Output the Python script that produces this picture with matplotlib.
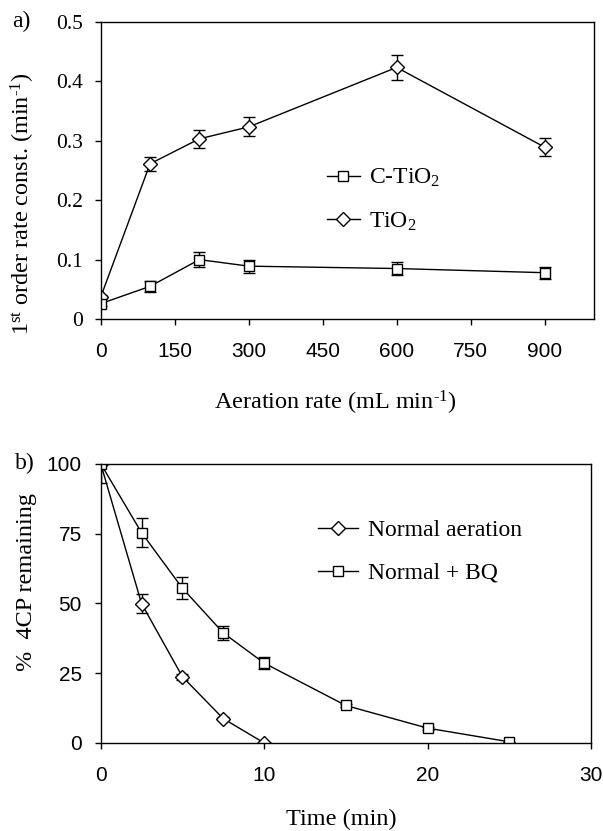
import matplotlib
matplotlib.use("Agg")
import matplotlib.pyplot as plt

plt.rcParams['mathtext.fontset'] = 'custom'
plt.rcParams['mathtext.rm'] = 'Liberation Serif'
plt.rcParams['mathtext.it'] = 'Liberation Serif:italic'

SERIF = 'Liberation Serif'
SANS = 'Liberation Sans'

# panel a: rate constant vs aeration rate
aeration = [0, 100, 200, 300, 600, 900]
k_ctio2 = [0.026, 0.055, 0.100, 0.089, 0.085, 0.078]
k_ctio2_err = [0.004, 0.009, 0.0125, 0.011, 0.011, 0.010]
k_tio2 = [0.037, 0.261, 0.303, 0.323, 0.423, 0.289]
k_tio2_err = [0.004, 0.012, 0.015, 0.016, 0.021, 0.015]
a_xticks = [0, 150, 300, 450, 600, 750, 900]
a_yticks = [0, 0.1, 0.2, 0.3, 0.4, 0.5]
a_yticklabels = ['0', '0.1', '0.2', '0.3', '0.4', '0.5']

# panel b: 4CP remaining vs time
t_normal = [0, 2.5, 5, 7.5, 10]
c_normal = [100, 49.9, 23.7, 8.7, 0]
c_normal_err = [0, 3.5, 1.0, 0.5, 0]
t_bq = [0, 2.5, 5, 7.5, 10, 15, 20, 25]
c_bq = [100, 75.3, 55.4, 39.4, 28.6, 13.4, 5.3, 0.4]
c_bq_err = [7, 5.3, 4.0, 2.6, 2.0, 0.5, 0.5, 0]
b_xticks = [0, 10, 20, 30]
b_yticks = [0, 25, 50, 75, 100]

fig = plt.figure(figsize=(6.03, 8.31), dpi=100)
ax1 = fig.add_axes([0.167, 0.616, 0.818, 0.358])
ax2 = fig.add_axes([0.167, 0.106, 0.813, 0.336])

style = dict(color='black', lw=1.0, mfc='white', mec='black', mew=1.0,
             ms=7.5, capsize=4.3, elinewidth=1.0, capthick=1.0)

eb_tio2 = ax1.errorbar(aeration, k_tio2, yerr=k_tio2_err, marker='D', **style)
eb_ctio2 = ax1.errorbar(aeration, k_ctio2, yerr=k_ctio2_err, marker='s', **style)
ax1.set_xlim(0, 1000)
ax1.set_ylim(0, 0.5)
ax1.set_xticks(a_xticks)
ax1.set_yticks(a_yticks)
ax1.set_yticklabels(a_yticklabels)
for lab in ax1.get_xticklabels():
    lab.set_fontfamily(SANS)
    lab.set_fontsize(15)
for lab in ax1.get_yticklabels():
    lab.set_fontfamily(SERIF)
    lab.set_fontsize(15.5)
ax1.tick_params(axis='x', direction='out', length=4.5, width=1.0, pad=12)
ax1.tick_params(axis='y', direction='out', length=4.5, width=1.0, pad=8)
ax1.set_xlabel('Aeration rate (mL min$^{\\text{-1}}$)', family=SERIF, fontsize=17.5)
ax1.xaxis.set_label_coords(0.475, -0.235)
ax1.set_ylabel('1$^{\\rm st}$ order rate const. (min$^{\\text{-1}}$)', family=SERIF, fontsize=17.5)
ax1.yaxis.set_label_coords(-0.13, 0.39)
# legend shows only line + marker, no error bars
ax1.legend([eb_ctio2[0], eb_tio2[0]], ['C-TiO$_2$', 'TiO$_2$'], frameon=False,
           prop={'family': SERIF, 'size': 17},
           handlelength=1.4, handletextpad=0.4, labelspacing=0.9,
           loc='center left', bbox_to_anchor=(0.415, 0.40))
ax1.text(-0.18, 1.0, 'a)', transform=ax1.transAxes, family=SERIF, fontsize=17,
         ha='left', va='center')

eb_normal = ax2.errorbar(t_normal, c_normal, yerr=c_normal_err, marker='D', **style)
eb_bq = ax2.errorbar(t_bq, c_bq, yerr=c_bq_err, marker='s', **style)
ax2.set_xlim(0, 30)
ax2.set_ylim(0, 100)
ax2.set_xticks(b_xticks)
ax2.set_yticks(b_yticks)
for lab in ax2.get_xticklabels() + ax2.get_yticklabels():
    lab.set_fontfamily(SANS)
    lab.set_fontsize(15)
ax2.tick_params(axis='x', direction='out', length=4.5, width=1.0, pad=12)
ax2.tick_params(axis='y', direction='out', length=4.5, width=1.0, pad=9)
ax2.set_xlabel('Time (min)', family=SERIF, fontsize=17.5)
ax2.xaxis.set_label_coords(0.49, -0.235)
ax2.set_ylabel('%  4CP remaining', family=SERIF, fontsize=17.5)
ax2.yaxis.set_label_coords(-0.13, 0.575)
ax2.legend([eb_normal[0], eb_bq[0]], ['Normal aeration', 'Normal + BQ'], frameon=False,
           prop={'family': SERIF, 'size': 17},
           handlelength=1.7, handletextpad=0.4, labelspacing=0.9,
           loc='center left', bbox_to_anchor=(0.40, 0.685))
ax2.text(-0.175, 1.0, 'b)', transform=ax2.transAxes, family=SERIF, fontsize=17,
         ha='left', va='center')

for ax in (ax1, ax2):
    for sp in ax.spines.values():
        sp.set_linewidth(1.0)

fig.savefig('out.png', dpi=100)
